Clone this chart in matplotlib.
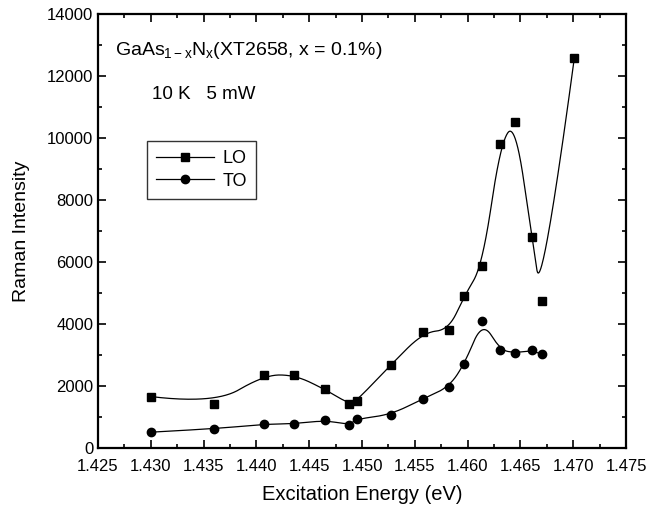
import matplotlib
matplotlib.use("Agg")
import matplotlib.pyplot as plt
import numpy as np
from matplotlib.ticker import MultipleLocator, FormatStrFormatter

plt.rcParams['font.family'] = ['Liberation Sans', 'DejaVu Sans']
plt.rcParams['mathtext.fontset'] = 'custom'
plt.rcParams['mathtext.rm'] = 'Liberation Sans'
plt.rcParams['mathtext.it'] = 'Liberation Sans'

# excitation energies (eV) shared by both modes
energy = [1.4300, 1.4360, 1.4407, 1.4436, 1.4465, 1.4488, 1.4495, 1.4527,
          1.4558, 1.4582, 1.4597, 1.4614, 1.4631, 1.4645, 1.4661, 1.4670]
# LO has one more point at the high-energy end
energy_lo = energy + [1.4701]
lo = [1660, 1410, 2350, 2360, 1890, 1420, 1530, 2670,
      3730, 3810, 4910, 5880, 9820, 10510, 6800, 4730, 12570]
to = [510, 620, 765, 785, 890, 750, 935, 1075,
      1590, 1960, 2710, 4100, 3160, 3070, 3150, 3030]


def bspline(x, y, n=50):
    # clamped quadratic B-spline, points used as control points (Origin style)
    P = np.column_stack([x, y]).astype(float)
    m = len(P)
    t = np.linspace(0, 1, n)[:, None]
    segs = []
    for i in range(1, m - 1):
        a = P[0] if i == 1 else (P[i - 1] + P[i]) / 2
        b = P[-1] if i == m - 2 else (P[i] + P[i + 1]) / 2
        segs.append((1 - t) ** 2 * a + 2 * t * (1 - t) * P[i] + t ** 2 * b)
    s = np.vstack(segs)
    return s[:, 0], s[:, 1]


fig = plt.figure(figsize=(6.49, 5.12), dpi=100)
ax = fig.add_axes([0.151, 0.125, 0.8136, 0.8477])

cx, cy = bspline(energy_lo, lo)
ax.plot(cx, cy, color='black', lw=0.9)
cx, cy = bspline(energy, to)
ax.plot(cx, cy, color='black', lw=0.9)
ax.plot(energy_lo, lo, 's', color='black', ms=5.3, ls='none')
ax.plot(energy, to, 'o', color='black', ms=6, ls='none')

# legend proxies (line + marker)
h1, = ax.plot([], [], '-s', color='black', lw=0.9, ms=5.3, label='LO')
h2, = ax.plot([], [], '-o', color='black', lw=0.9, ms=6, label='TO')
leg = ax.legend(handles=[h1, h2], loc='upper left', bbox_to_anchor=(0.093, 0.707),
                borderaxespad=0, fontsize=13, handlelength=3.2, handletextpad=0.5,
                borderpad=0.5, labelspacing=0.3, fancybox=False, frameon=True)
leg.get_frame().set_edgecolor('black')
leg.get_frame().set_linewidth(1.0)

ax.set_xlim(1.425, 1.475)
ax.set_ylim(0, 14000)
ax.xaxis.set_major_locator(MultipleLocator(0.005))
ax.xaxis.set_minor_locator(MultipleLocator(0.0025))
ax.xaxis.set_major_formatter(FormatStrFormatter('%.3f'))
ax.yaxis.set_major_locator(MultipleLocator(2000))
ax.yaxis.set_minor_locator(MultipleLocator(1000))
ax.tick_params(which='both', direction='in', top=True, right=True, width=1.2,
               labelsize=12)
ax.tick_params(which='major', length=5.5)
ax.tick_params(which='minor', length=3)
ax.tick_params(axis='x', pad=8)
for s in ax.spines.values():
    s.set_linewidth(1.6)

ax.set_xlabel('Excitation Energy (eV)', fontsize=14.5, labelpad=8)
ax.set_ylabel('Raman Intensity', fontsize=14, labelpad=12)

ax.text(0.032, 0.905, r'GaAs$_{\mathrm{1-x}}$N$_{\mathrm{x}}$(XT2658, x = 0.1%)',
        transform=ax.transAxes, fontsize=14)
ax.text(0.102, 0.805, '10 K   5 mW', transform=ax.transAxes, fontsize=13.5)

fig.savefig('out.png', dpi=100)
